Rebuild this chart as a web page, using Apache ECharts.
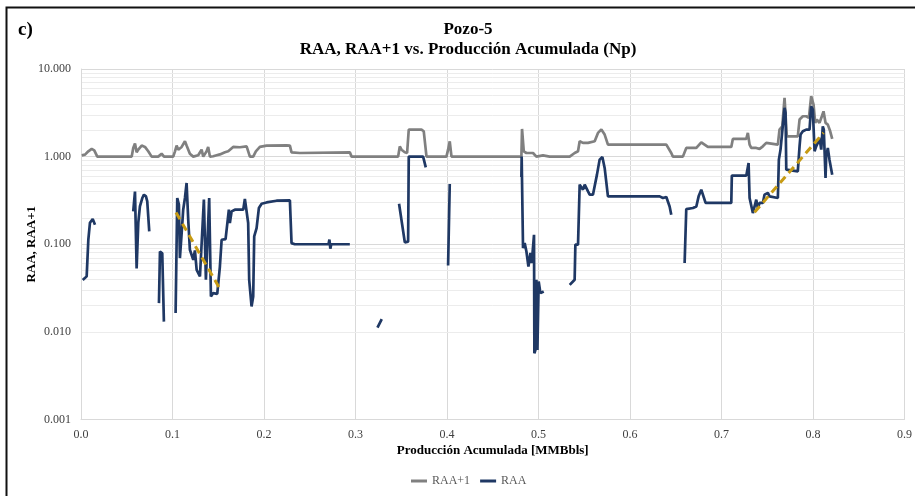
<!DOCTYPE html>
<html>
<head>
<meta charset="utf-8">
<title>Pozo-5</title>
<script src="https://cdn.jsdelivr.net/npm/echarts@6/dist/echarts.min.js"></script>
<style>
  html, body { margin: 0; padding: 0; background: #fff; }
  #main { width: 915px; height: 496px; }
</style>
</head>
<body>
<div id="main"></div>
<script type="text/javascript">
// RAA, tramos (Np en MMBbls, RAA)
var raa1 = [[0.0019,0.039],[0.0062,0.043],[0.008,0.112],[0.0098,0.176],[0.0128,0.194],[0.0153,0.167]];
var raa2 = [[0.0571,0.237],[0.059,0.40],[0.0608,0.053],[0.0626,0.175],[0.0644,0.27],[0.067,0.337],[0.0688,0.368],[0.071,0.352],[0.0724,0.308],[0.0746,0.14]];
var raa3 = [[0.0852,0.0213],[0.0863,0.0827],[0.0888,0.079],[0.0906,0.0131]];
var raa4 = [[0.1034,0.0164],[0.1052,0.337],[0.107,0.283],[0.1081,0.0696],[0.11,0.134],[0.1117,0.248],[0.1136,0.337],[0.1154,0.5],
  [0.1172,0.19],[0.119,0.0865],[0.1227,0.0665],[0.1245,0.085],[0.1264,0.0511],[0.13,0.0429],[0.1343,0.323],[0.1365,0.0393],
  [0.1401,0.337],[0.142,0.0253],[0.1445,0.0277],[0.1489,0.0272],[0.1518,0.0557],[0.1537,0.1125],[0.158,0.1146],[0.1616,0.248],
  [0.1627,0.175],[0.1646,0.237],[0.1682,0.248],[0.1773,0.248],[0.1791,0.329],[0.181,0.329],[0.1827,0.175],[0.1838,0.0393],
  [0.1864,0.0195],[0.1882,0.0253],[0.1893,0.1228],[0.1919,0.153],[0.1944,0.259],[0.1974,0.29],[0.2028,0.30],[0.2137,0.314],
  [0.2283,0.317],[0.2301,0.103],[0.2337,0.1],[0.2705,0.1],[0.2715,0.113],[0.2725,0.089],[0.2735,0.1],[0.2938,0.1]];
var raa5 = [[0.324,0.0112],[0.3287,0.014]];
var raa6 = [[0.3476,0.29],[0.3539,0.105],[0.3575,0.107],[0.3582,1.0],[0.3739,1.0],[0.3768,0.755]];
var raa7 = [[0.4012,0.0573],[0.403,0.488]];
var raa8 = [[0.4813,0.586],[0.4816,1.0],[0.4831,0.0905],[0.4849,0.103],[0.4868,0.0827],[0.489,0.0557],[0.4912,0.0794],[0.4926,0.061],
  [0.4951,0.128],[0.4955,0.0057],[0.4966,0.0062],[0.4977,0.0393],[0.4988,0.0062],[0.5002,0.0376],[0.5021,0.0277],[0.5057,0.0289]];
var raa9 = [[0.5341,0.0344],[0.5395,0.0393],[0.5403,0.0991],[0.5432,0.0991],[0.545,0.479],[0.5469,0.479],[0.5486,0.42],[0.5505,0.479],
  [0.5523,0.466],[0.5541,0.401],[0.5559,0.368],[0.5595,0.368],[0.5614,0.352],[0.5639,0.623],[0.5668,0.924],[0.5698,0.99],
  [0.5723,0.743],[0.5759,0.352],[0.6324,0.352],[0.636,0.337],[0.6397,0.346],[0.6414,0.337],[0.6433,0.27],[0.6451,0.217]];
var raa10 = [[0.6597,0.061],[0.6615,0.252],[0.6688,0.259],[0.6725,0.27],[0.675,0.352],[0.6779,0.42],[0.6797,0.40],[0.6826,0.296],
  [0.7107,0.296],[0.7113,0.607],[0.7271,0.607],[0.7288,0.596],[0.7296,0.847],[0.7307,0.337],[0.7325,0.323],[0.7343,0.227],
  [0.7361,0.237],[0.738,0.323],[0.7397,0.259],[0.7416,0.296],[0.7452,0.296],[0.747,0.368],[0.7507,0.385],[0.7525,0.352],
  [0.7616,0.337],[0.7627,0.924],[0.7645,1.202],[0.7664,1.257],[0.7689,3.6],[0.77,3.16],[0.7708,0.71],[0.7725,0.679],
  [0.7834,0.679],[0.7853,1.311],[0.7864,1.784],[0.7889,1.946],[0.7926,2.035],[0.7962,2.035],[0.798,3.76],[0.7998,3.44],
  [0.8017,1.15],[0.8035,1.311],[0.8053,1.434],[0.8071,1.636],[0.809,1.202],[0.8107,2.22],[0.8118,2.035],[0.8137,0.571],
  [0.8144,1.0],[0.8162,1.257],[0.818,0.924],[0.821,0.623]];

// RAA+1
var raap1a = [[0.0008,1.035],[0.0044,1.054],[0.008,1.15],[0.0117,1.225],[0.0145,1.18],[0.0178,1.0],[0.0554,1.0],[0.0571,1.257],
  [0.059,1.408],[0.0608,1.12],[0.0626,1.202],[0.0663,1.336],[0.0699,1.29],[0.0735,1.15],[0.0772,1.0],[0.0844,1.0],[0.0881,1.08],
  [0.0907,1.0],[0.1008,1.0],[0.1027,1.15],[0.1045,1.336],[0.1063,1.2],[0.11,1.29],[0.1136,1.496],[0.1154,1.336],[0.119,1.08],
  [0.1227,1.0],[0.1281,1.035],[0.1318,1.2],[0.1336,1.0],[0.1373,1.15],[0.139,1.29],[0.1409,1.0],[0.1445,1.01],[0.1482,1.035],
  [0.1518,1.06],[0.1573,1.12],[0.1609,1.15],[0.1627,1.2],[0.1663,1.29],[0.1737,1.28],[0.181,1.31],[0.1827,1.336],[0.1846,1.0],
  [0.1882,1.0],[0.1911,1.15],[0.1955,1.29],[0.2028,1.336],[0.2247,1.346],[0.2283,1.336],[0.2301,1.12],[0.2392,1.1]];
var raap1b = [[0.2938,1.12],[0.2957,1.0],[0.3247,1.0],[0.3266,1.012],[0.3284,1.0],[0.3466,1.0],[0.3484,1.31],[0.3503,1.2],
  [0.3539,1.12],[0.3564,1.1],[0.3582,2.035],[0.3721,2.035],[0.3746,1.946],[0.3776,1.0],[0.3994,1.0],[0.4012,1.2],[0.403,1.496],
  [0.4049,1.0],[0.4813,1.0],[0.482,2.07],[0.4839,1.15],[0.4868,1.1],[0.494,1.1],[0.4958,1.15],[0.4977,1.0],[0.5049,1.035],[0.5122,1.0]];
var raap1c = [[0.5341,1.0],[0.5395,1.1],[0.5432,1.15],[0.545,1.496],[0.5486,1.434],[0.5505,1.496],[0.5541,1.434],[0.5559,1.371],
  [0.5614,1.496],[0.565,1.866],[0.5687,2.035],[0.5723,1.784],[0.5759,1.371],[0.6397,1.371],[0.6451,1.1],[0.6469,1.0],[0.6578,1.0],
  [0.6615,1.257],[0.6725,1.257],[0.6779,1.457],[0.6815,1.371],[0.6851,1.29],[0.7107,1.29]];
var raap1d = [[0.7124,1.593],[0.7271,1.593],[0.7288,1.866],[0.7307,1.371],[0.7325,1.257],[0.7343,1.202],[0.738,1.257],[0.7416,1.225],
  [0.7452,1.311],[0.7489,1.434],[0.7507,1.371],[0.7616,1.371],[0.7634,2.035],[0.7664,2.22],[0.7689,4.69],[0.77,4.48],[0.7714,1.706],
  [0.7834,1.706],[0.7853,2.65],[0.7889,2.89],[0.7926,2.89],[0.7955,2.77],[0.798,4.89],[0.8006,3.93],[0.8024,2.43],[0.8042,2.65],
  [0.8071,2.43],[0.8097,2.89],[0.8115,3.29],[0.8137,2.43],[0.8162,2.32],[0.8188,1.946],[0.821,1.593]];

// tendencias
var trend1 = [[0.1038,0.231],[0.1518,0.031]];
var trend2 = [[0.7361,0.232],[0.8115,1.87]];

var decades = [0.001, 0.01, 0.1, 1];
var minorMult = [2, 3, 4, 5, 6, 7, 8, 9];

var FONT = "'Liberation Serif', 'Times New Roman', serif";

function joinSegments(segs) {
  var out = [];
  segs.forEach(function (s, i) {
    if (i > 0) out.push([s[0][0] - 0.0001, null]);
    out = out.concat(s);
  });
  return out;
}

var raaData = joinSegments([raa1, raa2, raa3, raa4, raa5, raa6, raa7, raa8, raa9, raa10]);
var raap1Data = [].concat(raap1a, raap1b, raap1c, raap1d);

var minorLines = [];
decades.forEach(function (d) {
  minorMult.forEach(function (m) { minorLines.push({ yAxis: d * m }); });
});

var myChart = echarts.init(document.getElementById('main'));
var option = {
  animation: false,
  backgroundColor: '#fff',
  title: {
    text: 'Pozo-5\nRAA, RAA+1 vs. Producción Acumulada (Np)',
    left: 463,
    top: 15,
    textAlign: 'center',
    textStyle: { fontFamily: FONT, fontSize: 17, fontWeight: 'bold', color: '#000', lineHeight: 20 }
  },
  graphic: [
    { type: 'rect', shape: { x: 6.5, y: 7.5, width: 1000, height: 600 },
      style: { fill: 'none', stroke: '#111', lineWidth: 2 }, silent: true },
    { type: 'text', left: 18, top: 21,
      style: { text: 'c)', font: 'bold 19px ' + FONT, fill: '#000' } }
  ],
  legend: {
    data: ['RAA+1', 'RAA'],
    left: 411,
    top: 475,
    padding: 0,
    icon: 'rect',
    itemWidth: 16,
    itemHeight: 3,
    itemGap: 10,
    textStyle: { fontFamily: FONT, fontSize: 12, color: '#595959' }
  },
  grid: { left: 81, right: 10, top: 69, bottom: 76.5, containLabel: false },
  xAxis: {
    type: 'value',
    min: 0,
    max: 0.9,
    interval: 0.1,
    name: 'Producción Acumulada [MMBbls]',
    nameLocation: 'middle',
    nameGap: 25,
    nameMoveOverlap: false,
    nameTextStyle: { fontFamily: FONT, fontSize: 13, fontWeight: 'bold', color: '#000' },
    axisLine: { show: true, lineStyle: { color: '#d9d9d9' } },
    axisTick: { show: false },
    axisLabel: { fontFamily: FONT, fontSize: 12, color: '#404040', margin: 9,
      formatter: function (v) { return v.toFixed(1); } },
    splitLine: { show: true, lineStyle: { color: '#d9d9d9' } }
  },
  yAxis: {
    type: 'log',
    logBase: 10,
    min: 0.001,
    max: 10,
    name: 'RAA, RAA+1',
    nameLocation: 'middle',
    nameGap: 43,
    nameMoveOverlap: false,
    nameTextStyle: { fontFamily: FONT, fontSize: 13, fontWeight: 'bold', color: '#000' },
    axisLine: { show: true, lineStyle: { color: '#d9d9d9' } },
    axisTick: { show: false },
    axisLabel: { fontFamily: FONT, fontSize: 12, color: '#404040', margin: 10,
      formatter: function (v) { return Number(v).toFixed(3); } },
    splitLine: { show: true, lineStyle: { color: '#d9d9d9' } }
  },
  series: [
    {
      name: 'minor', type: 'line', data: [], z: 0, silent: true,
      markLine: {
        silent: true, symbol: 'none', label: { show: false }, z: 0,
        lineStyle: { color: '#ececec', type: 'solid', width: 1 },
        data: minorLines
      }
    },
    {
      name: 'RAA+1', type: 'line', data: raap1Data, showSymbol: false, z: 2,
      lineStyle: { color: '#808080', width: 2.7 }, itemStyle: { color: '#808080' }
    },
    {
      name: 'RAA', type: 'line', data: raaData, showSymbol: false, connectNulls: false, z: 3,
      lineStyle: { color: '#1f3864', width: 2.7 }, itemStyle: { color: '#1f3864' }
    },
    {
      name: 'tend1', type: 'line', data: trend1, showSymbol: false, z: 4,
      lineStyle: { color: '#c79b14', width: 3, type: [8, 5] }
    },
    {
      name: 'tend2', type: 'line', data: trend2, showSymbol: false, z: 4,
      lineStyle: { color: '#c79b14', width: 3, type: [8, 5] }
    }
  ]
};
myChart.setOption(option);
</script>
</body>
</html>
